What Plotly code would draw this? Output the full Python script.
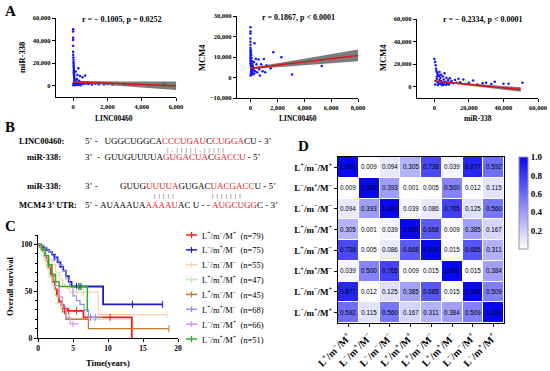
import plotly.graph_objects as go

W, H = 550, 371
SERIF = "Liberation Serif"
SANS = "Liberation Sans"
NB = "\u00a0"
BLUE_PT = "#1414ff"


def fx(p):
    return p / W


def fy(p):
    return 1 - p / H


# ---------------- Panel A data ----------------
a1_x = [0, 0, 0, 0, 0, 0, 0, 10, 20, 20, 30, 30, 30, 40, 40, 40, 50, 50, 50, 60, 60, 70, 80, 80, 90,
        100, 100, 120, 150, 150, 180, 200, 220, 250, 250, 300, 300, 350, 400, 450, 500, 550, 600, 650,
        700, 800, 900, 1000, 1100, 1300, 1500, 1800, 2000, 2300, 3000, 3300, 3600, 4400, 5300,
        10, 20, 40, 60, 80, 110, 130, 160, 200, 240, 280, 320, 360, 420, 480]
a1_y = [50000, 48000, 42500, 40500, 35500, 30000, 27500, 25000, 23000, 21000, 19500, 18000, 16500,
        15000, 13500, 12000, 11000, 10000, 9000, 8000, 7000, 6000, 5000, 4000, 3000, 2500, 2000, 1500,
        1000, 12500, 3500, 800, 6000, 2000, 9500, 1500, 15500, 4500, 8500, 2500, 1200, 7500, 3000, 1500,
        9000, 2000, 1500, 2500, 1000, 1800, 1200, 1000, 1500, 1000, 1200, 1000, 1300, 500, 1600,
        500, 1500, 2500, 3500, 1000, 4500, 500, 2500, 1500, 3500, 700, 2000, 1200, 500, 1800]
a1_fit = [3500, -0.6]
a1_ci_x = [0, 1000, 2000, 3000, 4000, 5000, 6000]
a1_ci_half = [600, 900, 1400, 2000, 2600, 3200, 3800]

a2_x = [0, 0, 0, 0, 0, 0, 0, 0, 0, 0, 0, 0, 0, 0, 20, 30, 40, 50, 60, 70, 80, 90, 100, 110, 120, 130,
        150, 170, 200, 220, 250, 280, 300, 350, 400, 450, 500, 600, 650, 700, 800, 900, 1000, 1100,
        1200, 1500, 1700, 2300, 3100, 5300, 10, 30, 50, 70, 90, 140, 190, 260]
a2_y = [24500, 22500, 21500, 19000, 17500, 16000, 14500, 13000, 12000, 11000, 10000, 9000, 8000, 7000,
        13500, 6000, 12500, 5000, 11000, 4000, 9500, 3000, 8000, 2500, 7000, 2000, 6000, 1500, 5000,
        3500, 4500, 2000, 16700, 3000, 9000, 6500, 2500, 8800, 4000, 1000, 6500, 3000, 9000, 2500, 6000,
        4500, 12300, 9900, 1500, 5600, 1000, 2000, 3000, 4500, 5500, 3500, 4000, 7500]
a2_fit = [4400, 0.8]
a2_ci_x = [0, 1000, 2000, 3000, 4000, 5000, 6000, 7000, 8000]
a2_ci_half = [400, 600, 900, 1200, 1600, 1900, 2300, 2600, 2900]

a3_x = [0, 500, 800, 1000, 1200, 1500, 1500, 2000, 2000, 2500, 2500, 3000, 3000, 3500, 3500, 4000, 4000,
        4500, 5000, 5000, 5500, 6000, 6000, 6500, 7000, 7500, 8000, 8500, 9000, 9500, 10000, 11000,
        12000, 13000, 14000, 15000, 16800, 18000, 20000, 22500, 25000, 28000, 30000, 33000, 35000,
        40000, 43000, 51000, 500, 1000, 1500, 2000, 3000, 4000, 5000, 6000, 7000, 8000]
a3_y = [24500, 22000, 19000, 16000, 14000, 12500, 7000, 11000, 4000, 9500, 2500, 13000, 6000, 8000,
        3000, 10500, 5000, 1500, 9000, 3500, 6500, 12000, 2000, 4500, 8000, 3000, 6000, 2000, 7500, 4000,
        5000, 3000, 6000, 3500, 7000, 4000, 6400, 2500, 3500, 5500, 2000, 3000, 3500, 2500, 4500, 2700,
        2700, 3600, 2000, 5000, 9000, 1500, 10000, 2500, 1500, 4000, 1800, 3500]
a3_fit = [5000, -0.15]
a3_ci_x = [0, 10000, 20000, 30000, 40000, 50000]
a3_ci_half = [300, 500, 800, 1200, 1600, 2000]

assert len(a1_x) == len(a1_y) and len(a2_x) == len(a2_y) and len(a3_x) == len(a3_y)

# ---------------- Panel C / D data ----------------
group_signs = [("+", "−", "+"), ("−", "+", "−"), ("−", "−", "−"), ("+", "+", "+"),
               ("+", "−", "−"), ("+", "+", "−"), ("−", "−", "+"), ("−", "+", "+")]
group_n = [79, 75, 55, 47, 45, 68, 66, 51]
group_colors = ["#ff1a1a", "#1c1cc8", "#f8cfa6", "#b8eeb0", "#c8762a", "#9090f2", "#d890f0", "#22b022"]
group_widths = [1.8, 1.8, 1.2, 1.2, 1.3, 1.2, 1.2, 1.4]

km_t = [
    [0, 0.3, 0.6, 0.9, 1.2, 1.5, 1.8, 2.1, 2.4, 2.7, 3.0, 3.3, 3.7, 4.2, 6.5, 13.4],
    [0, 0.4, 0.8, 1.2, 1.6, 2.0, 2.4, 2.8, 3.2, 3.6, 4.0, 4.4, 4.8, 9.3, 17.8],
    [0, 0.5, 1.0, 1.5, 2.0, 2.5, 3.0, 3.5, 4.0, 4.5, 8.6, 18.4],
    [0, 0.4, 0.8, 1.2, 1.6, 2.0, 2.4, 2.8, 3.3, 4.0, 4.5, 12.8],
    [0, 0.5, 1.0, 1.5, 2.0, 2.5, 3.0, 3.5, 4.0, 7.2, 18.7],
    [0, 0.5, 1.0, 1.5, 2.0, 2.5, 3.0, 3.5, 4.0, 4.5, 5.0, 5.5, 6.0, 6.6, 7.2, 8.8],
    [0, 0.5, 1.0, 1.5, 2.0, 2.5, 3.0, 3.5, 4.0, 4.6, 5.8],
    [0, 0.5, 1.0, 1.5, 2.0, 2.5, 3.0, 7.05],
]
km_s = [
    [100, 97, 93, 88, 82, 75, 68, 60, 52, 45, 39, 35, 31, 29, 22, 0],
    [100, 98, 96, 94, 92, 89, 86, 81, 76, 72, 66, 60, 55, 36, 36],
    [100, 95, 90, 84, 78, 70, 63, 57, 53, 49, 25, 25],
    [100, 92, 84, 75, 65, 55, 45, 37, 30, 25, 20, 20],
    [100, 95, 88, 78, 66, 52, 38, 28, 20, 10, 10],
    [100, 98, 95, 92, 88, 84, 78, 72, 63, 55, 45, 40, 36, 30, 22, 22],
    [100, 94, 87, 78, 68, 56, 44, 33, 22, 15, 15],
    [100, 95, 88, 78, 68, 60, 55, 28],
]
cens_t = [[3.8, 4.4, 5.5, 7.5, 10.3], [2.3, 5.5, 6.0, 13.5, 17.8], [5.5, 6.5, 9.0, 18.4], [8.0],
          [18.7], [7.5, 8.2], [5.0], [5.8, 6.2]]
cens_s = [[29, 29, 29, 22, 22], [86, 55, 55, 36, 36], [49, 49, 25, 25], [20],
          [10], [22, 22], [15], [55, 55]]

pval = [
    [1.000, 0.009, 0.094, 0.305, 0.738, 0.039, 0.877, 0.592],
    [0.009, 1.000, 0.393, 0.001, 0.005, 0.500, 0.012, 0.115],
    [0.094, 0.393, 1.000, 0.039, 0.086, 0.765, 0.125, 0.560],
    [0.305, 0.001, 0.039, 1.000, 0.668, 0.009, 0.385, 0.167],
    [0.738, 0.005, 0.086, 0.668, 1.000, 0.015, 0.685, 0.311],
    [0.039, 0.500, 0.765, 0.009, 0.015, 1.000, 0.015, 0.384],
    [0.877, 0.012, 0.125, 0.385, 0.685, 0.015, 1.000, 0.509],
    [0.592, 0.115, 0.560, 0.167, 0.311, 0.384, 0.509, 1.000],
]


def lab(sg):
    return f"L<sup>{sg[0]}</sup>/m<sup>{sg[1]}</sup>/M<sup>{sg[2]}</sup>"


group_labels = [lab(s) for s in group_signs]

fig = go.Figure()


def add_scatter_panel(xs, ys, fit, cix, cih, xa, ya):
    line = [fit[0] + fit[1] * x for x in cix]
    up = [l + h for l, h in zip(line, cih)]
    lo = [l - h for l, h in zip(line, cih)]
    fig.add_trace(go.Scatter(x=xs, y=ys, mode="markers", xaxis=xa, yaxis=ya,
                             marker=dict(size=2.5, color=BLUE_PT), showlegend=False))
    fig.add_trace(go.Scatter(x=cix + cix[::-1], y=up + lo[::-1], fill="toself", mode="lines",
                             line=dict(width=0), fillcolor="rgba(100,100,100,0.85)",
                             xaxis=xa, yaxis=ya, showlegend=False))
    fig.add_trace(go.Scatter(x=cix, y=line, mode="lines", line=dict(color="#e01010", width=1.4),
                             xaxis=xa, yaxis=ya, showlegend=False))


add_scatter_panel(a1_x, a1_y, a1_fit, a1_ci_x, a1_ci_half, "x", "y")
add_scatter_panel(a2_x, a2_y, a2_fit, a2_ci_x, a2_ci_half, "x2", "y2")
add_scatter_panel(a3_x, a3_y, a3_fit, a3_ci_x, a3_ci_half, "x3", "y3")

# KM curves
for i in range(8):
    fig.add_trace(go.Scatter(x=km_t[i], y=km_s[i], mode="lines", line_shape="hv",
                             line=dict(color=group_colors[i], width=group_widths[i]),
                             xaxis="x4", yaxis="y4", showlegend=False))
for i in range(8):
    fig.add_trace(go.Scatter(x=cens_t[i], y=cens_s[i], mode="markers",
                             marker=dict(symbol="line-ns", size=5,
                                         line=dict(color=group_colors[i], width=1)),
                             xaxis="x4", yaxis="y4", showlegend=False))

# Heatmap
fig.add_trace(go.Heatmap(
    z=pval, x=list(range(8)), y=list(range(8)), zmin=0, zmax=1,
    colorscale=[[0, "#ffffff"], [1, "#0808f0"]], xgap=1, ygap=1,
    text=[[f"{v:.3f}" for v in row] for row in pval], texttemplate="%{text}",
    textfont=dict(family=SANS, size=6.3, color="black"),
    xaxis="x5", yaxis="y5",
    colorbar=dict(x=fx(519), xanchor="left", y=fy(157), yanchor="top", xpad=0, ypad=0,
                  len=92 / H, lenmode="fraction", thickness=9, outlinewidth=1,
                  outlinecolor="#999", ticks="", tickvals=[0.2, 0.4, 0.6, 0.8, 1.0],
                  ticktext=["0.2", "0.4", "0.6", "0.8", "1.0"],
                  tickfont=dict(family=SERIF, size=9, color="black", weight="bold")),
))


def axis(domain, rng, tickvals, anchor, size=6.5, **kw):
    d = dict(domain=domain, range=rng, tickvals=tickvals, anchor=anchor, showline=True,
             linecolor="black", linewidth=1.4, ticks="outside", ticklen=3, tickwidth=1.2,
             tickcolor="black", showgrid=False, zeroline=False, tickformat=",", automargin=False,
             tickfont=dict(family=SERIF, size=size, color="black", weight="bold"))
    d.update(kw)
    return d


layout = dict(
    width=W, height=371, margin=dict(l=0, r=0, t=0, b=0, autoexpand=False),
    paper_bgcolor="white", plot_bgcolor="white", showlegend=False,
    xaxis=axis([fx(56), fx(176)], [-1000, 6000], [0, 2000, 4000, 6000], "y"),
    yaxis=axis([fy(97), fy(18)], [-10000, 60000], [0, 20000, 40000, 60000], "x"),
    xaxis2=axis([fx(237), fx(358)], [-1000, 8000], [0, 2000, 4000, 6000, 8000], "y2"),
    yaxis2=axis([fy(98), fy(16)], [-10000, 30000], [-10000, 0, 10000, 20000, 30000], "x2"),
    xaxis3=axis([fx(417), fx(538)], [-10000, 60000], [0, 20000, 40000, 60000], "y3"),
    yaxis3=axis([fy(98), fy(19)], [-10000, 60000], [0, 20000, 40000, 60000], "x3"),
    xaxis4=axis([fx(38), fx(178)], [0, 20], [0, 5, 10, 15, 20], "y4", size=7.5),
    yaxis4=axis([fy(338), fy(235)], [0, 110], [0, 50, 100], "x4", size=7.5,
                minor=dict(dtick=10, ticklen=2, tickcolor="black", ticks="outside")),
    xaxis5=dict(domain=[fx(338), fx(504)], range=[-0.5, 7.5], anchor="y5", tickvals=list(range(8)),
                ticktext=group_labels, tickangle=-45, showline=True, mirror=True, linecolor="black",
                linewidth=1.2, ticks="outside", ticklen=3, tickcolor="black", showgrid=False,
                zeroline=False, automargin=False,
                tickfont=dict(family=SERIF, size=10, color="black", weight="bold")),
    yaxis5=dict(domain=[fy(323), fy(157)], range=[7.5, -0.5], anchor="x5", tickvals=list(range(8)),
                ticktext=group_labels, showline=True, mirror=True, linecolor="black",
                linewidth=1.2, ticks="outside", ticklen=3, tickcolor="black", showgrid=False,
                zeroline=False, automargin=False,
                tickfont=dict(family=SERIF, size=9, color="black", weight="bold")),
)
fig.update_layout(**layout)

ann = []
shapes = []


def text(x, y, s, size=8, bold=True, xanchor="center", yanchor="middle", angle=0, family=SERIF):
    ann.append(dict(x=fx(x), y=fy(y), xref="paper", yref="paper", text=s, showarrow=False,
                    xanchor=xanchor, yanchor=yanchor, textangle=angle, align=xanchor,
                    font=dict(family=family, size=size, color="black",
                              weight="bold" if bold else "normal")))


# panel letters
text(3, 11, "A", size=15, xanchor="left")
text(3, 127, "B", size=15, xanchor="left")
text(3, 226, "C", size=15, xanchor="left")
text(296, 146, "D", size=15, xanchor="left")

# panel A titles
text(122, 19, "r = − 0.1005, p = 0.0252", size=8)
text(298, 18, "r = 0.1867, p < 0.0001", size=8)
text(483, 19, "r = − 0.2334, p < 0.0001", size=8)
text(22, 58, "miR-338", size=8.5, angle=-90)
text(202, 58, "MCM4", size=8.5, angle=-90)
text(383, 58, "MCM4", size=8.5, angle=-90)
text(114, 119, "LINC00460", size=7.5)
text(298, 119, "LINC00460", size=7.5)
text(478, 119, "miR-338", size=7.5)


# panel B
def red(s):
    return f'<span style="color:#e8141b">{s}</span>'


SEQ = 9
text(17, 141, "LINC00460:", size=8.5, xanchor="left")
text(83, 141, "5’" + NB + "-" + NB * 3 + "UGGCUGGCA" + red("CC") + red("CUGAU") + "C" + red("CUGGA")
     + "CU" + NB + "-" + NB + "3’", size=SEQ, bold=False, xanchor="left")
text(195, 149.5, (NB * 2).join("|.|||||.|||||"), size=6.5, bold=False)
text(63, 157, "miR-338:", size=8.5, xanchor="right")
text(83, 157, "3’" + NB * 2 + "-" + NB * 2 + "GUUGUUUUA" + red("GUGACUA") + "C" + red("GACCU")
     + NB + "-" + NB + "5’", size=SEQ, bold=False, xanchor="left")
text(63, 186, "miR-338:", size=8.5, xanchor="right")
text(83, 186, "3’" + NB + "-", size=SEQ, bold=False, xanchor="left")
text(118, 186, "GUUG" + red("UUUUA") + "GUGAC" + red("UACGACC") + "U" + NB + "-" + NB + "5’",
     size=SEQ, bold=False, xanchor="left")
text(164, 195.5, (NB * 2).join("|||||"), size=6.5, bold=False)
text(226, 195.5, (NB * 2).join("|||||||"), size=6.5, bold=False)
text(17, 205, "MCM4 3’ UTR:", size=8.5, xanchor="left")
text(83, 205, "5’" + NB + "-" + NB + "AUAAAUA" + red("AAAAU") + "AC" + NB + "U" + NB + "-" + NB + "-" + NB
     + red("AUGCUGG") + "C" + NB + "-" + NB + "3’", size=SEQ, bold=False, xanchor="left")

# panel C titles
text(10, 287, "Overall survival", size=8.5, angle=-90)
text(108, 363, "Time(years)", size=8.5)

# panel C legend
for i in range(8):
    yy = 235 + i * 14.86
    shapes.append(dict(type="line", xref="paper", yref="paper", x0=fx(186), x1=fx(197),
                       y0=fy(yy), y1=fy(yy), line=dict(color=group_colors[i], width=1.5)))
    shapes.append(dict(type="line", xref="paper", yref="paper", x0=fx(191.5), x1=fx(191.5),
                       y0=fy(yy - 3), y1=fy(yy + 3), line=dict(color=group_colors[i], width=1.2)))
    text(200, yy, group_labels[i] + NB * 2 + f"(n={group_n[i]})", size=8.5, bold=False,
         xanchor="left")

fig.update_layout(annotations=ann, shapes=shapes)
fig.write_html("out.html", config={"displayModeBar": False},
               post_script="document.body.style.margin='0px';document.body.style.overflow='hidden';")
